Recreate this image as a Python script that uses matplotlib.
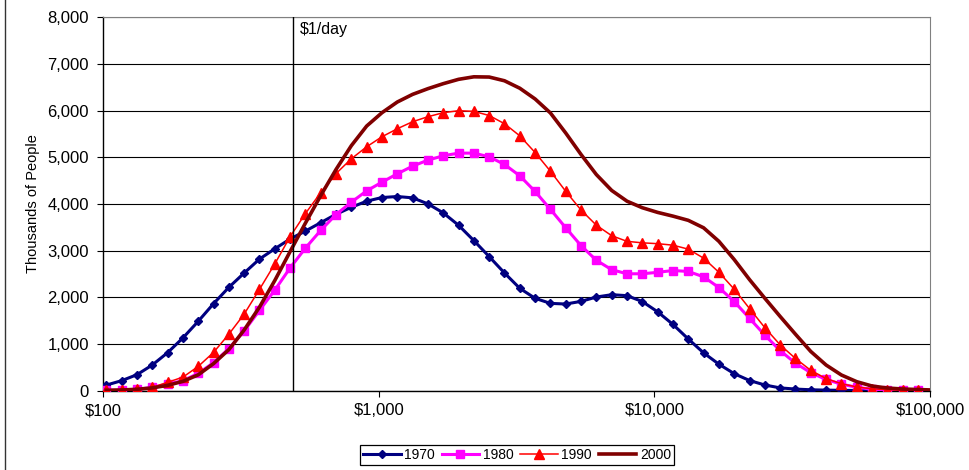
import numpy as np
import matplotlib
matplotlib.use("Agg")
import matplotlib.pyplot as plt
from matplotlib.lines import Line2D
from matplotlib.ticker import FuncFormatter, NullLocator

plt.rcParams['font.family'] = ['Liberation Sans', 'DejaVu Sans']

# income grid: 18 bins per decade, starting just above $100
income = 10 ** (2.012 + np.arange(55) / 18)

# thousands of people in each income bin
pop_1970 = [120, 215, 343, 550, 814, 1130, 1486, 1864, 2214, 2521,
            2820, 3040, 3250, 3420, 3600, 3780, 3930, 4060, 4139, 4160,
            4132, 4003, 3810, 3545, 3216, 2873, 2522, 2193, 1979, 1871,
            1857, 1914, 2007, 2057, 2036, 1910, 1690, 1420, 1108, 811,
            568, 365, 218, 122, 60, 35, 20, 12, 8, 5,
            3, 2, 1, 1]
pop_1980 = [5, 14, 29, 71, 143, 214, 371, 600, 900, 1279,
            1720, 2155, 2630, 3055, 3435, 3775, 4039, 4282, 4468, 4647,
            4811, 4940, 5033, 5090, 5090, 5011, 4847, 4604, 4268, 3885,
            3490, 3107, 2793, 2593, 2505, 2505, 2536, 2575, 2555, 2440,
            2210, 1910, 1550, 1190, 858, 590, 386, 240, 140, 73,
            32, 15, 6, 5]
pop_1990 = [10, 15, 30, 70, 180, 290, 520, 820, 1210, 1640,
            2170, 2715, 3300, 3795, 4245, 4652, 4969, 5226, 5441, 5612,
            5763, 5870, 5956, 5999, 5985, 5896, 5720, 5460, 5102, 4702,
            4271, 3870, 3545, 3321, 3200, 3168, 3150, 3118, 3033, 2840,
            2537, 2175, 1760, 1350, 982, 690, 436, 260, 150, 80,
            40, 22, 8, 5]
pop_2000 = [10, 15, 30, 60, 115, 200, 340, 580, 880, 1300,
            1790, 2360, 2980, 3590, 4180, 4740, 5250, 5670, 5956, 6185,
            6349, 6471, 6578, 6671, 6725, 6720, 6640, 6480, 6250, 5950,
            5520, 5060, 4630, 4290, 4060, 3920, 3820, 3740, 3650, 3490,
            3200, 2810, 2380, 1980, 1590, 1210, 840, 550, 336, 193,
            100, 57, 36, 25, 14]

dollar_a_day = 490  # annual income line
x_ticks = [100, 1000, 10000, 100000]

fig = plt.figure(figsize=(9.69, 4.70), dpi=100)
ax = fig.add_axes([103 / 969, 1 - 390.7 / 470, 827 / 969, 373.4 / 470])

ax.plot(income[:54], pop_1970, color='#000080', lw=2.2, marker='D', ms=4.5,
        label='1970', zorder=3)
ax.plot(income[:54], pop_1980, color='#FF00FF', lw=2.2, marker='s', ms=5.5,
        label='1980', zorder=4)
ax.plot(income[:54], pop_1990, color='#FF0000', lw=1.1, marker='^', ms=6.5,
        label='1990', zorder=5)
ax.plot(income, pop_2000, color='#800000', lw=2.6, label='2000', zorder=6)

ax.axvline(dollar_a_day, color='black', lw=1.0, zorder=7)
ax.text(518, 7740, r'\$1/day', fontsize=11.5, ha='left', va='center')

ax.set_xscale('log')
ax.set_xlim(100, 100000)
ax.set_ylim(0, 8000)
ax.set_xticks(x_ticks)
ax.xaxis.set_minor_locator(NullLocator())
ax.xaxis.set_major_formatter(FuncFormatter(lambda v, p: r'\$' + f'{v:,.0f}'))
ax.set_yticks(np.arange(0, 8001, 1000))
ax.yaxis.set_major_formatter(FuncFormatter(lambda v, p: f'{v:,.0f}'))
ax.tick_params(axis='both', direction='out', length=4, width=0.8,
               labelsize=12, color='black')
ax.tick_params(axis='y', pad=6)
ax.tick_params(axis='x', pad=5)

ax.grid(axis='y', color='black', lw=0.8)
ax.set_axisbelow(True)
for side in ('top', 'right'):
    ax.spines[side].set_color('#808080')
for side in ('left', 'bottom'):
    ax.spines[side].set_color('black')
    ax.spines[side].set_linewidth(1.0)

ax.set_ylabel('Thousands of People', fontsize=10.5)
ax.yaxis.set_label_coords(-0.076, 0.5)

leg = fig.legend(loc='center', bbox_to_anchor=(517 / 969, 1 - 455 / 470),
                 ncol=4, fontsize=10, frameon=True, fancybox=False,
                 edgecolor='black', framealpha=1, handlelength=2.7,
                 handletextpad=0.25, columnspacing=0.5, borderpad=0.25,
                 borderaxespad=0)
leg.get_frame().set_linewidth(0.9)

# chart area border on the left edge
fig.add_artist(Line2D([5 / 969, 5 / 969], [0, 1], color='#333333', lw=1.0))

fig.savefig('out.png', dpi=100)
